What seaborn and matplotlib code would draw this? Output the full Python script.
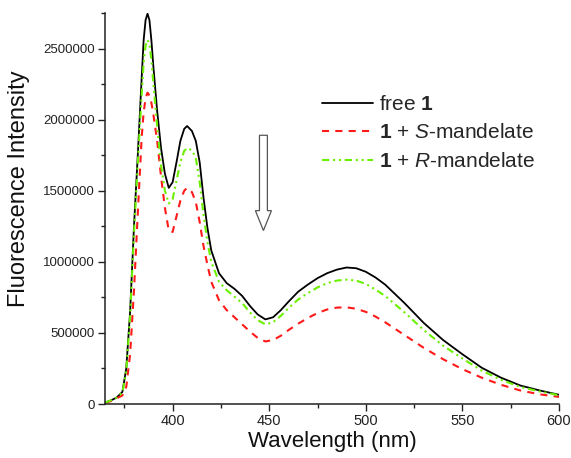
import matplotlib
matplotlib.use("Agg")
import matplotlib.pyplot as plt
from matplotlib.ticker import MultipleLocator, AutoMinorLocator
import seaborn as sns

# Emission wavelengths (nm)
wavelength = [365, 368, 371, 374, 376, 378, 380, 382, 384, 385, 386, 387, 388,
              389, 390, 392, 394, 396, 398, 400, 402, 404, 406, 407.5, 410, 412,
              414, 416, 418, 420, 424, 428, 432, 436, 440, 444, 448, 452, 456,
              460, 465, 470, 475, 480, 485, 490, 495, 500, 505, 510, 520, 530,
              540, 550, 560, 570, 580, 590, 600]

# Fluorescence intensities (thousands of counts)
free_1 = [10, 25, 45, 85, 250, 650, 1250, 1760, 2300, 2560, 2700, 2745, 2700,
          2560, 2380, 2060, 1800, 1620, 1520, 1560, 1700, 1850, 1935, 1955, 1920,
          1850, 1700, 1450, 1240, 1080, 920, 850, 810, 760, 690, 630, 595, 610,
          660, 720, 790, 840, 885, 920, 945, 960, 955, 930, 890, 840, 710, 570,
          450, 350, 255, 185, 130, 95, 65]

s_mandelate = [8, 20, 40, 60, 120, 350, 800, 1350, 1880, 2050, 2150, 2190, 2170,
               2120, 2040, 1850, 1600, 1380, 1220, 1210, 1320, 1430, 1500, 1520,
               1490, 1420, 1280, 1110, 980, 860, 730, 660, 610, 560, 510, 465, 440,
               450, 480, 520, 565, 605, 640, 665, 678, 680, 670, 648, 615, 575, 485,
               395, 315, 245, 185, 135, 95, 68, 50]

r_mandelate = [10, 25, 45, 80, 230, 620, 1200, 1700, 2180, 2400, 2520, 2560, 2530,
               2420, 2260, 1950, 1680, 1500, 1410, 1440, 1570, 1700, 1780, 1800,
               1785, 1730, 1560, 1330, 1140, 1000, 860, 800, 755, 710, 645, 590,
               560, 575, 620, 675, 735, 780, 820, 850, 868, 875, 868, 845, 805, 760,
               645, 520, 410, 320, 235, 170, 120, 88, 62]

labels = [r"free $\mathbf{1}$",
          r"$\mathbf{1}$ + $\mathit{S}$-mandelate",
          r"$\mathbf{1}$ + $\mathit{R}$-mandelate"]
colors = ["black", "#ff1a1a", "#6cf000"]
styles = ["-", (0, (3.4, 3.0)), (0, (3.5, 1.8, 1.0, 1.8, 1.0, 1.8))]
widths = [1.3, 1.5, 1.5]

sns.set_style("ticks")
plt.rcParams["font.family"] = ["Liberation Sans", "DejaVu Sans"]
plt.rcParams["mathtext.fontset"] = "custom"
plt.rcParams["mathtext.rm"] = "Liberation Sans"
plt.rcParams["mathtext.it"] = "Liberation Sans:italic"
plt.rcParams["mathtext.bf"] = "Liberation Sans:bold"

fig = plt.figure(figsize=(5.71, 4.58), dpi=100)
ax = fig.add_axes([0.1839, 0.1179, 0.7951, 0.8537])

for series, lab, col, ls, lw in zip([free_1, s_mandelate, r_mandelate],
                                    labels, colors, styles, widths):
    sns.lineplot(x=wavelength, y=[v * 1000 for v in series], ax=ax,
                 color=col, linestyle=ls, linewidth=lw, label=lab)

ax.set_xlim(365, 600)
ax.set_ylim(0, 2750000)
ax.xaxis.set_major_locator(MultipleLocator(50))
ax.xaxis.set_minor_locator(AutoMinorLocator(2))
ax.yaxis.set_major_locator(MultipleLocator(500000))
ax.yaxis.set_minor_locator(AutoMinorLocator(2))
ax.ticklabel_format(axis="y", style="plain", useOffset=False)

for side in ["left", "bottom"]:
    ax.spines[side].set_linewidth(1.1)
    ax.spines[side].set_color("#222222")
sns.despine(ax=ax)

ax.tick_params(which="major", direction="out", length=5, width=1.0,
               color="#222222", pad=2.5)
ax.tick_params(which="minor", direction="out", length=3.2, width=1.0,
               color="#222222")
ax.tick_params(axis="y", labelsize=9.5, labelcolor="#222222")
ax.tick_params(axis="x", labelsize=10.5, labelcolor="#222222")

ax.set_xlabel("Wavelength (nm)", fontsize=16, color="#111111", labelpad=1.5)
ax.set_ylabel("Fluorescence Intensity", fontsize=17, color="#111111")
ax.yaxis.set_label_coords(-0.165, 0.55)

# hollow arrow showing quenching
ax.arrow(447, 1.89e6, 0, -0.67e6, width=4.1, head_width=8.3,
         head_length=1.4e5, length_includes_head=True,
         fc="white", ec="#555555", lw=0.9, zorder=3)

ax.legend(loc="upper left", bbox_to_anchor=(0.478, 0.79), frameon=False,
          fontsize=15, handlelength=2.45, handletextpad=0.3,
          labelspacing=0.45, borderpad=0, borderaxespad=0)

fig.savefig("out.png", dpi=100)
